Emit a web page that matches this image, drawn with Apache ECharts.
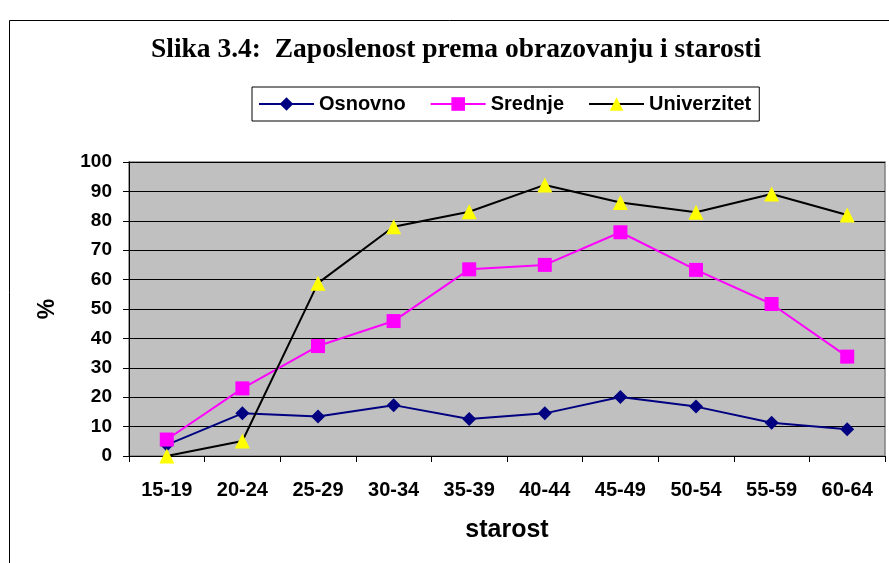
<!DOCTYPE html>
<html><head><meta charset="utf-8">
<script src="https://cdn.jsdelivr.net/npm/echarts@6/dist/echarts.min.js"></script>
<style>html,body{margin:0;padding:0;background:#fff}#c{width:889px;height:563px}</style>
</head><body><div id="c"></div>
<script>
const categories = ['15-19','20-24','25-29','30-34','35-39','40-44','45-49','50-54','55-59','60-64'];
const osnovno = [3.8, 14.5, 13.4, 17.3, 12.6, 14.5, 20.1, 16.8, 11.3, 9.1];
const srednje = [5.6, 23, 37.4, 45.9, 63.5, 65, 76.1, 63.3, 51.7, 33.8];
const univerzitet = [0, 5.1, 58.8, 78, 83.1, 92.2, 86.2, 82.9, 89.1, 82];
const yTicks = [0,10,20,30,40,50,60,70,80,90,100];

const chart = echarts.init(document.getElementById('c'), null, {renderer:'canvas'});
const bold = {fontFamily:'Liberation Sans, Arial', fontWeight:'bold', color:'#000'};
chart.setOption({
  animation:false,
  backgroundColor:'#fff',
  graphic:[{type:'rect', shape:{x:9.5,y:20.5,width:900,height:600}, style:{fill:'none',stroke:'#000',lineWidth:1}, z:-10}],
  title:{text:'Slika 3.4:  Zaposlenost prema obrazovanju i starosti', left:146, top:31,
    textStyle:{fontFamily:'Liberation Serif, Times New Roman', fontWeight:'bold', fontSize:27.5, color:'#000'}},
  legend:{top:87, left:252, padding:[7,8,7,6], itemGap:24, itemWidth:55, itemHeight:17,
    backgroundColor:'#fff', borderColor:'#000', borderWidth:1, borderRadius:0,
    textStyle:Object.assign({fontSize:20}, bold),
    data:['Osnovno','Srednje','Univerzitet']},
  grid:{left:129, right:4, top:162, bottom:107, show:true, backgroundColor:'#C0C0C0', borderColor:'#808080', borderWidth:1.5},
  xAxis:{type:'category', data:categories, boundaryGap:true, name:'starost', nameLocation:'middle', nameGap:62,
    nameTextStyle:Object.assign({fontSize:25}, bold),
    axisLine:{lineStyle:{color:'#000'}}, axisTick:{show:true, length:6, alignWithLabel:false, lineStyle:{color:'#000'}},
    axisLabel:Object.assign({fontSize:20, margin:24}, bold)},
  yAxis:{type:'value', min:0, max:100, interval:10, name:'%', nameLocation:'middle', nameGap:70, nameRotate:90,
    nameTextStyle:Object.assign({fontSize:23}, bold),
    axisLine:{show:true, lineStyle:{color:'#000'}}, axisTick:{show:true, length:6, lineStyle:{color:'#000'}},
    splitLine:{lineStyle:{color:'#000', width:1}},
    axisLabel:Object.assign({fontSize:19, margin:17, formatter:v=>yTicks.includes(v)?String(v):''}, bold)},
  series:[
    {name:'Osnovno', type:'line', data:osnovno, symbol:'diamond', symbolSize:14,
      lineStyle:{color:'#000080', width:2}, itemStyle:{color:'#000080'}},
    {name:'Srednje', type:'line', data:srednje, symbol:'rect', symbolSize:14,
      lineStyle:{color:'#FF00FF', width:2}, itemStyle:{color:'#FF00FF'}},
    {name:'Univerzitet', type:'line', data:univerzitet, symbol:'triangle', symbolSize:15,
      lineStyle:{color:'#000', width:2}, itemStyle:{color:'#FFFF00'}}
  ]
});
</script></body></html>
